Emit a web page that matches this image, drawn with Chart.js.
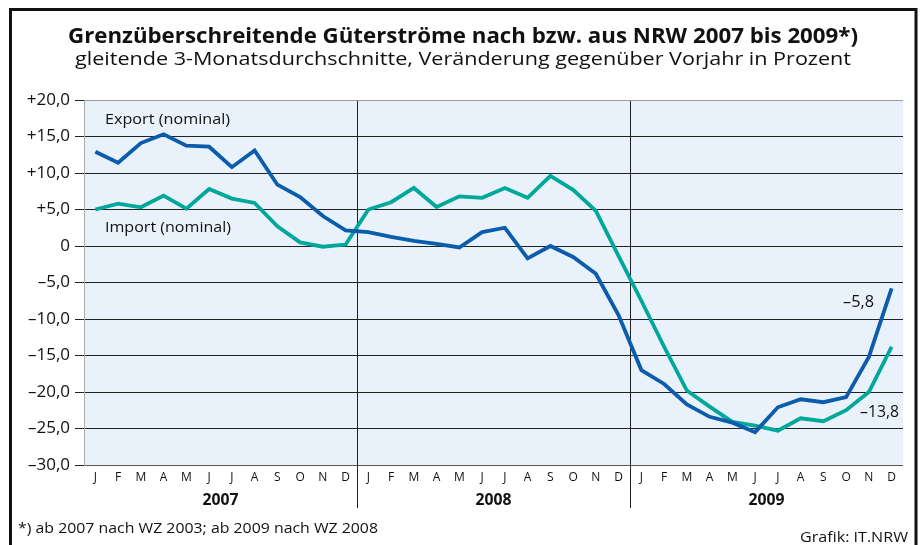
<!DOCTYPE html>
<html><head><meta charset="utf-8">
<style>html,body{margin:0;padding:0;background:#fff}canvas{display:block}</style>
<script src="https://cdn.jsdelivr.net/npm/chart.js@4"></script>
</head><body>
<canvas id="c" width="922" height="545"></canvas>
<script>
const monthLabels = ['J','F','M','A','M','J','J','A','S','O','N','D'];
const years = ['2007','2008','2009'];
const categories = [...monthLabels, ...monthLabels, ...monthLabels];
const exportValues = [12.9, 11.4, 14.1, 15.3, 13.75, 13.6, 10.8, 13.1, 8.4, 6.7, 4.1, 2.15,
  1.9, 1.25, 0.7, 0.3, -0.2, 1.9, 2.5, -1.7, 0.0, -1.5, -3.8, -9.5,
  -17.0, -18.9, -21.7, -23.4, -24.2, -25.5, -22.1, -21.0, -21.4, -20.7, -15.2, -5.8];
const importValues = [5.0, 5.8, 5.3, 6.9, 5.1, 7.8, 6.5, 5.9, 2.7, 0.5, -0.1, 0.2,
  5.0, 6.0, 7.95, 5.35, 6.8, 6.6, 7.95, 6.6, 9.6, 7.7, 4.8, -1.4,
  -7.5, -13.8, -19.8, -22.0, -24.1, -24.6, -25.3, -23.6, -24.0, -22.5, -20.0, -13.8];
const yTicks = {min: -30, max: 20, step: 5};
const titleText = 'Grenzüberschreitende Güterströme nach bzw. aus NRW 2007 bis 2009*)';
const subtitleText = 'gleitende 3-Monatsdurchschnitte, Veränderung gegenüber Vorjahr in Prozent';
const footnoteText = '*) ab 2007 nach WZ 2003; ab 2009 nach WZ 2008';
const sourceText = 'Grafik: IT.NRW';
const seriesNames = ['Export (nominal)', 'Import (nominal)'];

const FONT = '"Open Sans", "Noto Sans", sans-serif';
function fmt(v) {
  if (v === 0) return '0';
  const s = Math.abs(v).toFixed(1).replace('.', ',');
  return (v > 0 ? '+' : '\u2013') + s;
}
function txt(ctx, s, x, y, font, align, width) {
  ctx.save();
  ctx.font = font;
  const w = ctx.measureText(s).width;
  const sx = width ? width / w : 1;
  ctx.translate(x, y);
  ctx.scale(sx, 1);
  ctx.textAlign = align;
  ctx.textBaseline = 'alphabetic';
  ctx.fillStyle = '#111';
  ctx.fillText(s, 0, 0);
  ctx.restore();
}

const decor = {
  id: 'decor',
  beforeDraw(chart) {
    const {ctx, chartArea: a} = chart;
    ctx.save();
    ctx.fillStyle = '#fff';
    ctx.fillRect(0, 0, chart.width, chart.height);
    ctx.fillStyle = '#e9f1fa';
    ctx.fillRect(a.left, a.top, a.right - a.left, a.bottom - a.top);
    ctx.restore();
  },
  afterDraw(chart) {
    const {ctx, chartArea: a} = chart;
    const xs = chart.scales.x;
    const step = xs.getPixelForValue(1) - xs.getPixelForValue(0);
    ctx.save();
    // frame
    ctx.strokeStyle = '#111';
    ctx.lineWidth = 3;
    ctx.strokeRect(10.5, 9.5, 905.5, 600);
    // year divider extensions
    ctx.lineWidth = 1;
    ctx.strokeStyle = '#222';
    for (let i = 1; i < years.length; i++) {
      const xp = Math.round(xs.getPixelForValue(12 * i) - step / 2) + 0.5;
      ctx.beginPath();
      ctx.moveTo(xp, a.bottom);
      ctx.lineTo(xp, a.bottom + 43);
      ctx.stroke();
    }
    // year labels
    years.forEach((y, i) => {
      const cx = (xs.getPixelForValue(12 * i) + xs.getPixelForValue(12 * i + 11)) / 2;
      txt(ctx, y, cx, a.bottom + 40, 'bold 16px ' + FONT, 'center', 36);
    });
    // titles
    txt(ctx, titleText, 463, 43, 'bold 21px ' + FONT, 'center', 790);
    txt(ctx, subtitleText, 463, 65, '18px ' + FONT, 'center', 776);
    // series labels
    txt(ctx, seriesNames[0], a.left + 21, 124, '15px ' + FONT, 'left', 125);
    txt(ctx, seriesNames[1], a.left + 21, 232, '15px ' + FONT, 'left', 126);
    // end value labels
    txt(ctx, fmt(exportValues[exportValues.length - 1]), 874, 307, '16px ' + FONT, 'right', 31);
    txt(ctx, fmt(importValues[importValues.length - 1]), 899, 417, '16px ' + FONT, 'right', 39);
    // footnotes
    txt(ctx, footnoteText, 18, 533, '14px ' + FONT, 'left', 360);
    txt(ctx, sourceText, 908, 542, '14px ' + FONT, 'right', 108);
    ctx.restore();
  }
};

new Chart(document.getElementById('c'), {
  type: 'line',
  data: {
    labels: categories,
    datasets: [
      {label: seriesNames[0], data: exportValues, borderColor: '#0b5cad', borderWidth: 3.8,
       pointRadius: 0, tension: 0, fill: false},
      {label: seriesNames[1], data: importValues, borderColor: '#00a79b', borderWidth: 3.8,
       pointRadius: 0, tension: 0, fill: false}
    ]
  },
  options: {
    responsive: false,
    animation: false,
    layout: {padding: {left: 0, top: 100, right: 19, bottom: 0}},
    plugins: {legend: {display: false}, tooltip: {enabled: false}, title: {display: false}},
    scales: {
      x: {
        type: 'category',
        offset: true,
        afterFit(s) { s.height = 80; },
        grid: {
          offset: true,
          drawTicks: false,
          lineWidth: 1,
          color: c => (c.index === 12 || c.index === 24) ? '#222' : 'rgba(0,0,0,0)'
        },
        border: {display: false},
        ticks: {autoSkip: false, maxRotation: 0, minRotation: 0, padding: 5,
                color: '#111', font: {family: FONT, size: 12}}
      },
      y: {
        min: yTicks.min, max: yTicks.max,
        afterFit(s) { s.width = 84; },
        grid: {
          lineWidth: 1,
          tickLength: 9,
          tickColor: '#222',
          color: c => c.tick && c.tick.value === yTicks.max ? '#9a9a9a' : (c.tick && c.tick.value === yTicks.min ? '#555' : '#222')
        },
        border: {display: true, color: '#aaa', width: 1},
        ticks: {stepSize: yTicks.step, padding: 5, color: '#111',
                font: {family: FONT, size: 17}, callback: v => fmt(v)}
      }
    }
  },
  plugins: [decor]
});
</script>
</body></html>
